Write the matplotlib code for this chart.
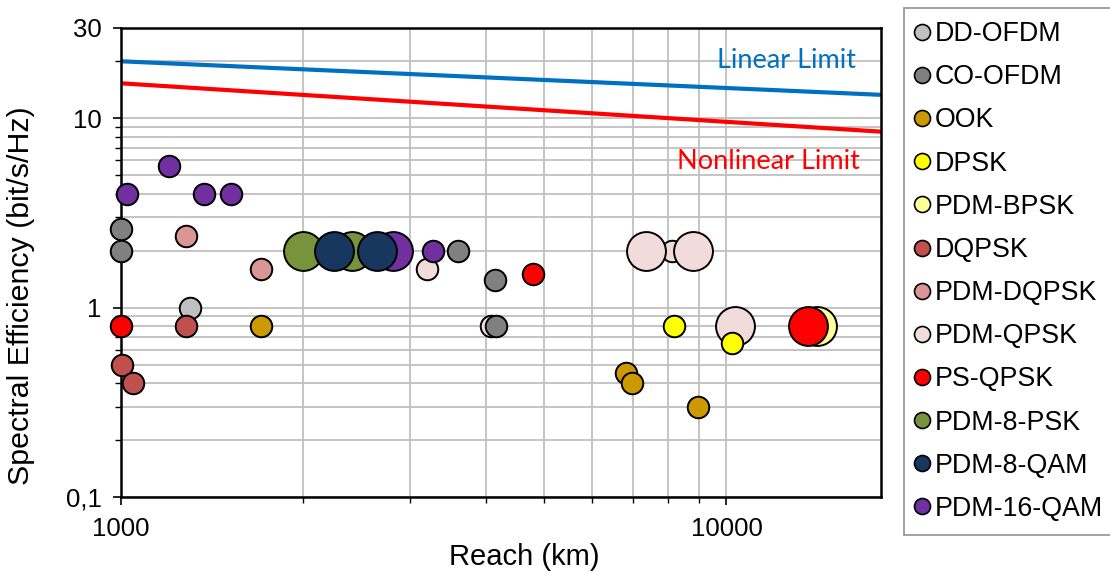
import matplotlib
matplotlib.use("Agg")
import matplotlib.pyplot as plt
from matplotlib.lines import Line2D
from matplotlib.ticker import LogLocator, NullFormatter, FixedLocator, FixedFormatter

# reach (km) / spectral efficiency (bit/s/Hz) per modulation format
dd_ofdm_km = [1300]
dd_ofdm_se = [1.0]

co_ofdm_km = [1000, 1000, 3600, 4150, 4160]
co_ofdm_se = [2.6, 2.0, 2.0, 1.4, 0.8]

ook_km = [1700, 6830, 6990, 8970]
ook_se = [0.8, 0.45, 0.4, 0.3]

dpsk_km = [8190, 10230]
dpsk_se = [0.8, 0.65]

pdm_bpsk_km = [14100]
pdm_bpsk_se = [0.8]

dqpsk_km = [1280, 1005, 1048]
dqpsk_se = [0.8, 0.5, 0.4]

pdm_dqpsk_km = [1280, 1700]
pdm_dqpsk_se = [2.4, 1.6]

pdm_qpsk_km = [3200, 4080, 8130, 7370, 8800, 10320]
pdm_qpsk_se = [1.6, 0.8, 2.0, 2.0, 2.0, 0.8]

ps_qpsk_km = [1000, 4800, 13620]
ps_qpsk_se = [0.8, 1.5, 0.8]

pdm_8psk_km = [2000, 2410]
pdm_8psk_se = [2.0, 2.0]

pdm_8qam_km = [2250, 2650]
pdm_8qam_se = [2.0, 2.0]

pdm_16qam_km = [1200, 1024, 1370, 1520, 2810, 3280]
pdm_16qam_se = [5.6, 4.0, 4.0, 4.0, 2.0, 2.0]

# limits
limit_km = [1000, 18000]
linear_limit = [20.0, 13.3]
nonlinear_limit = [15.3, 8.5]

# styling
SMALL = 15.5
BIG = 28
series = [
    # label, km, se, color, marker sizes (pt), zorder
    ("DD-OFDM", dd_ofdm_km, dd_ofdm_se, "#C0C0C0", [SMALL], 4),
    ("CO-OFDM", co_ofdm_km, co_ofdm_se, "#808080", [SMALL] * 5, 4),
    ("OOK", ook_km, ook_se, "#CC9900", [SMALL] * 4, 4),
    ("DPSK", dpsk_km, dpsk_se, "#FFFF00", [SMALL] * 2, 4),
    ("PDM-BPSK", pdm_bpsk_km, pdm_bpsk_se, "#FFFF99", [BIG], 3),
    ("DQPSK", dqpsk_km, dqpsk_se, "#C0504D", [SMALL] * 3, 5),
    ("PDM-DQPSK", pdm_dqpsk_km, pdm_dqpsk_se, "#D99694", [SMALL] * 2, 5),
    ("PDM-QPSK", pdm_qpsk_km, pdm_qpsk_se, "#F2DCDB",
     [SMALL, SMALL, SMALL, BIG, BIG, BIG], 3),
    ("PS-QPSK", ps_qpsk_km, ps_qpsk_se, "#FF0000", [SMALL, SMALL, BIG], 5),
    ("PDM-8-PSK", pdm_8psk_km, pdm_8psk_se, "#77933C", [BIG] * 2, 5),
    ("PDM-8-QAM", pdm_8qam_km, pdm_8qam_se, "#17375E", [BIG] * 2, 7),
    ("PDM-16-QAM", pdm_16qam_km, pdm_16qam_se, "#7030A0",
     [SMALL, SMALL, SMALL, SMALL, BIG, SMALL], 6),
]

plt.rcParams["font.family"] = ["Liberation Sans", "DejaVu Sans"]

fig = plt.figure(figsize=(11.1, 5.71), dpi=100)
ax = fig.add_axes([0.109, 0.1294, 0.6847, 0.8217])

ax.set_xscale("log")
ax.set_yscale("log")
ax.set_xlim(1000, 18000)
ax.set_ylim(0.1, 30)

ax.plot(limit_km, linear_limit, color="#0070C0", lw=3, zorder=2)
ax.plot(limit_km, nonlinear_limit, color="#FF0000", lw=3, zorder=2)
ax.text(9650, 20.3, "Linear Limit", color="#0070C0", fontsize=19.5,
        family="Lato", va="center", ha="left")
ax.text(8300, 5.9, "Nonlinear Limit", color="#FF0000", fontsize=19.5,
        family="Lato", va="center", ha="left")

handles = []
for label, km, se, color, sizes, z in series:
    for x, y, ms in zip(km, se, sizes):
        ax.plot(x, y, "o", ms=ms, mfc=color, mec="black", mew=1.4, zorder=z,
                clip_on=False)
    handles.append(Line2D([], [], ls="none", marker="o", ms=11.5, mfc=color,
                          mec="black", mew=1.2, label=label))

ax.xaxis.set_major_locator(FixedLocator([1000, 10000]))
ax.xaxis.set_major_formatter(FixedFormatter(["1000", "10000"]))
ax.xaxis.set_minor_locator(LogLocator(base=10, subs=range(2, 10)))
ax.xaxis.set_minor_formatter(NullFormatter())
ax.yaxis.set_major_locator(FixedLocator([0.1, 1, 10, 30]))
ax.yaxis.set_major_formatter(FixedFormatter(["0,1", "1", "10", "30"]))
ax.yaxis.set_minor_locator(LogLocator(base=10, subs=range(2, 10)))
ax.yaxis.set_minor_formatter(NullFormatter())

ax.grid(True, which="both", color="#BFBFBF", lw=1.3, zorder=0)
ax.set_axisbelow(True)
for s in ax.spines.values():
    s.set_color("black")
    s.set_linewidth(1.8)
ax.tick_params(which="major", direction="out", length=6, width=1.2,
               labelsize=18.5, pad=8)
ax.tick_params(which="minor", direction="out", length=4, width=1.0)

ax.set_xlabel("Reach (km)", fontsize=21)
ax.xaxis.set_label_coords(0.53, -0.097)
ax.set_ylabel("Spectral Efficiency (bit/s/Hz)", fontsize=21.9)
ax.yaxis.set_label_coords(-0.113, 0.43)

leg = fig.legend(handles=handles, loc="upper left",
                 bbox_to_anchor=(0.8144, 0.9855), borderaxespad=0,
                 fontsize=19.3, handlelength=0.35, handletextpad=0.3,
                 labelspacing=0.64, borderpad=0.48, fancybox=False,
                 frameon=True)
leg.get_frame().set_edgecolor("#808080")
leg.get_frame().set_linewidth(1.3)

fig.savefig("out.png", dpi=100)
